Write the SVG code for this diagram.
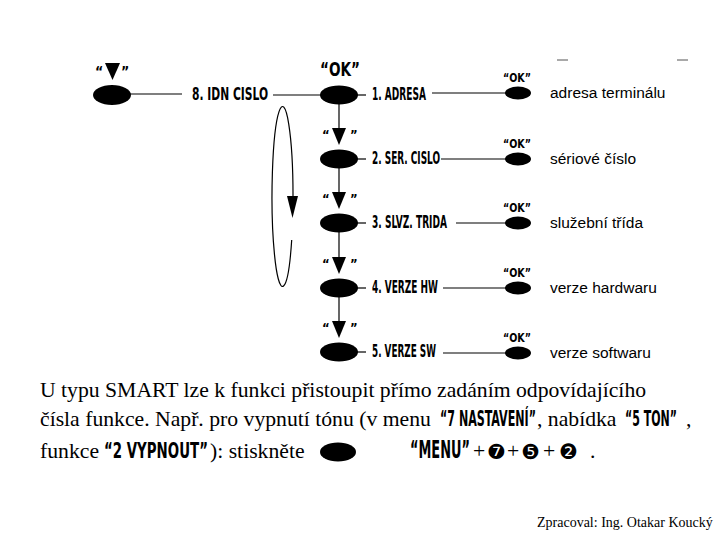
<svg xmlns="http://www.w3.org/2000/svg" width="720" height="540" viewBox="0 0 720 540">
<defs>
<style>
.k{font-family:"DejaVu Sans Condensed","DejaVu Sans",sans-serif;font-weight:bold;font-stretch:condensed;fill:#000}
.d{font-family:"Liberation Sans",Arial,sans-serif;font-size:15.5px;fill:#000}
.b{font-family:"Liberation Serif","Times New Roman",serif;font-size:21.7px;fill:#000}
.dg{font-family:"DejaVu Sans",sans-serif;font-size:21px;fill:#000}
.ln{stroke:#000;stroke-width:1.2;fill:none}
.el{fill:#000}
</style>
</defs>
<rect width="720" height="540" fill="#fff"/>
<line x1="557" y1="60" x2="568" y2="60" stroke="#555" stroke-width="1"/>
<line x1="677" y1="60" x2="688" y2="60" stroke="#555" stroke-width="1"/>

<g id="connectors">
<line class="ln" x1="130" y1="94" x2="182" y2="94"/>
<line class="ln" x1="273" y1="95" x2="322" y2="95"/>
<line class="ln" x1="339" y1="104" x2="339" y2="128"/>
<line class="ln" x1="339" y1="168" x2="339" y2="192"/>
<line class="ln" x1="339" y1="232" x2="339" y2="257"/>
<line class="ln" x1="339" y1="297" x2="339" y2="321"/>
<line class="ln" x1="357" y1="95" x2="366" y2="95"/>
<line class="ln" x1="357" y1="159" x2="366" y2="159"/>
<line class="ln" x1="357" y1="223" x2="366" y2="223"/>
<line class="ln" x1="357" y1="288" x2="366" y2="288"/>
<line class="ln" x1="357" y1="352" x2="366" y2="352"/>
<line class="ln" x1="432" y1="93" x2="506" y2="93"/>
<line class="ln" x1="441" y1="159" x2="506" y2="159"/>
<line class="ln" x1="456" y1="223" x2="506" y2="223"/>
<line class="ln" x1="443" y1="288" x2="506" y2="288"/>
<line class="ln" x1="443" y1="353" x2="506" y2="353"/>
<path class="ln" d="M291.7 240 A10.5 90 0 1 1 293 200" stroke-width="1.3"/>
<polygon points="287,196 298,196 292.5,218" fill="#000"/>
</g>

<g id="node-down-start">
<text class="k" x="95" y="76" font-size="14">“</text>
<polygon points="105,63 120,63 112.5,80" fill="#000"/>
<text class="k" x="121" y="76" font-size="14">”</text>
<ellipse class="el" cx="112" cy="95" rx="19" ry="10"/>
</g>

<g id="node-idn">
<text class="k" x="192" y="100" font-size="18.5" textLength="76" lengthAdjust="spacingAndGlyphs">8. IDN CISLO</text>
</g>

<g id="node-ok-1">
<text class="k" x="320" y="76" font-size="19" textLength="40" lengthAdjust="spacingAndGlyphs">“OK”</text>
<ellipse class="el" cx="339" cy="95" rx="19" ry="9.5"/>
<text class="k" x="372" y="100" font-size="17" textLength="54" lengthAdjust="spacingAndGlyphs">1. ADRESA</text>
</g>
<g id="node-ok-1r">
<text class="k" x="503" y="82" font-size="12.5" textLength="28" lengthAdjust="spacingAndGlyphs">“OK”</text>
<ellipse class="el" cx="518" cy="93" rx="13" ry="6.5"/>
<text class="d" x="550" y="98">adresa terminálu</text>
</g>

<g id="node-2">
<text class="k" x="322" y="139" font-size="13">“</text>
<polygon points="332,128 346,128 339,145" fill="#000"/>
<text class="k" x="350" y="139" font-size="13">”</text>
<ellipse class="el" cx="339" cy="159" rx="19" ry="9.5"/>
<text class="k" x="372" y="164" font-size="17" textLength="68" lengthAdjust="spacingAndGlyphs">2. SER. CISLO</text>
</g>
<g id="node-2r">
<text class="k" x="503" y="148" font-size="12.5" textLength="28" lengthAdjust="spacingAndGlyphs">“OK”</text>
<ellipse class="el" cx="518" cy="159" rx="13" ry="6.5"/>
<text class="d" x="550" y="164">sériové číslo</text>
</g>

<g id="node-3">
<text class="k" x="322" y="203" font-size="13">“</text>
<polygon points="332,192 346,192 339,209" fill="#000"/>
<text class="k" x="350" y="203" font-size="13">”</text>
<ellipse class="el" cx="339" cy="223" rx="19" ry="9.5"/>
<text class="k" x="372" y="228" font-size="17" textLength="75" lengthAdjust="spacingAndGlyphs">3. SLVZ. TRIDA</text>
</g>
<g id="node-3r">
<text class="k" x="503" y="212" font-size="12.5" textLength="28" lengthAdjust="spacingAndGlyphs">“OK”</text>
<ellipse class="el" cx="518" cy="223" rx="13" ry="6.5"/>
<text class="d" x="550" y="228">služební třída</text>
</g>

<g id="node-4">
<text class="k" x="322" y="268" font-size="13">“</text>
<polygon points="332,257 346,257 339,274" fill="#000"/>
<text class="k" x="350" y="268" font-size="13">”</text>
<ellipse class="el" cx="339" cy="288" rx="19" ry="9.5"/>
<text class="k" x="372" y="293" font-size="17" textLength="66" lengthAdjust="spacingAndGlyphs">4. VERZE HW</text>
</g>
<g id="node-4r">
<text class="k" x="503" y="277" font-size="12.5" textLength="28" lengthAdjust="spacingAndGlyphs">“OK”</text>
<ellipse class="el" cx="518" cy="288" rx="13" ry="6.5"/>
<text class="d" x="550" y="293">verze hardwaru</text>
</g>

<g id="node-5">
<text class="k" x="322" y="332" font-size="13">“</text>
<polygon points="332,321 346,321 339,338" fill="#000"/>
<text class="k" x="350" y="332" font-size="13">”</text>
<ellipse class="el" cx="339" cy="352" rx="19" ry="9.5"/>
<text class="k" x="372" y="357" font-size="17" textLength="64" lengthAdjust="spacingAndGlyphs">5. VERZE SW</text>
</g>
<g id="node-5r">
<text class="k" x="503" y="342" font-size="12.5" textLength="28" lengthAdjust="spacingAndGlyphs">“OK”</text>
<ellipse class="el" cx="518" cy="353" rx="13" ry="6.5"/>
<text class="d" x="550" y="358">verze softwaru</text>
</g>

<g id="note">
<text class="b" x="40" y="397">U typu SMART lze k funkci přistoupit přímo zadáním odpovídajícího</text>
<text class="b" x="40" y="426">čísla funkce. Např. pro vypnutí tónu (v menu</text>
<text class="k" x="440" y="426" font-size="22" textLength="96" lengthAdjust="spacingAndGlyphs">“7 NASTAVENÍ”</text>
<text class="b" x="537" y="426">, nabídka</text>
<text class="k" x="625" y="426" font-size="22" textLength="52" lengthAdjust="spacingAndGlyphs">“5 TON”</text>
<text class="b" x="686" y="426">,</text>
<text class="k" x="104" y="458" font-size="22" textLength="104" lengthAdjust="spacingAndGlyphs">“2 VYPNOUT”</text>
<text class="b" x="40" y="458">funkce</text>
<text class="b" x="210" y="458">): stiskněte</text>
<ellipse class="el" cx="338" cy="452" rx="18" ry="9.5"/>
<text class="k" x="410" y="458" font-size="25" textLength="60" lengthAdjust="spacingAndGlyphs">“MENU”</text>
<text class="b" x="473" y="458">+</text>
<text class="dg" x="487" y="459">❼</text>
<text class="b" x="507" y="458">+</text>
<text class="dg" x="521" y="459">❺</text>
<text class="b" x="543" y="458">+</text>
<text class="dg" x="559" y="459">❷</text>
<text class="b" x="590" y="458">.</text>
</g>

<text x="537" y="527" font-family="Liberation Serif,'Times New Roman',serif" font-size="14" fill="#000">Zpracoval: Ing. Otakar Koucký</text>
</svg>
